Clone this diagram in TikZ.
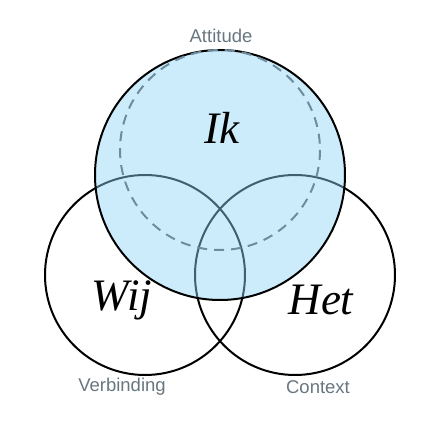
\documentclass[tikz,border=0pt]{standalone}
\usepackage{fontspec}
\setmainfont{Liberation Serif}
\setsansfont{Liberation Sans}
\usepackage{tikz}
\usetikzlibrary{positioning}

\definecolor{ikblue}{RGB}{142,213,249}
\definecolor{dashgray}{RGB}{110,140,160}
\definecolor{labelgray}{RGB}{104,118,128}

\begin{document}
\begin{tikzpicture}[
    x=1pt, y=-1pt,
    ring/.style={draw=black, line width=2pt},
    core/.style={ring, fill=ikblue, fill opacity=0.45},
    inner/.style={draw=dashgray, line width=2pt, dash pattern=on 10pt off 7pt},
    setname/.style={font=\fontsize{45}{50}\selectfont\itshape},
    tag/.style={font=\fontsize{18.5}{22}\selectfont\sffamily, text=labelgray}
  ]
    \useasboundingbox (0,0) rectangle (440,430);
    % the two lower sets
    \draw[ring] (145,275) circle (100);
    \draw[ring] (295,275) circle (100);
    % the upper set, see-through
    \draw[core] (220,175) circle (125);
    \draw[inner] (220,150) circle (100);
    \node[setname] (ik)  at (222,128) {Ik};
    \node[setname] (wij) at (122,300) {Wij};
    \node[setname] (het) at (321,300) {Het};
    \node[tag] (attitude)   at (221,36)  {Attitude};
    \node[tag] (verbinding) at (122,387) {Verbinding};
    \node[tag] (context)    at (318,387) {Context};
  \end{tikzpicture}
\end{document}
